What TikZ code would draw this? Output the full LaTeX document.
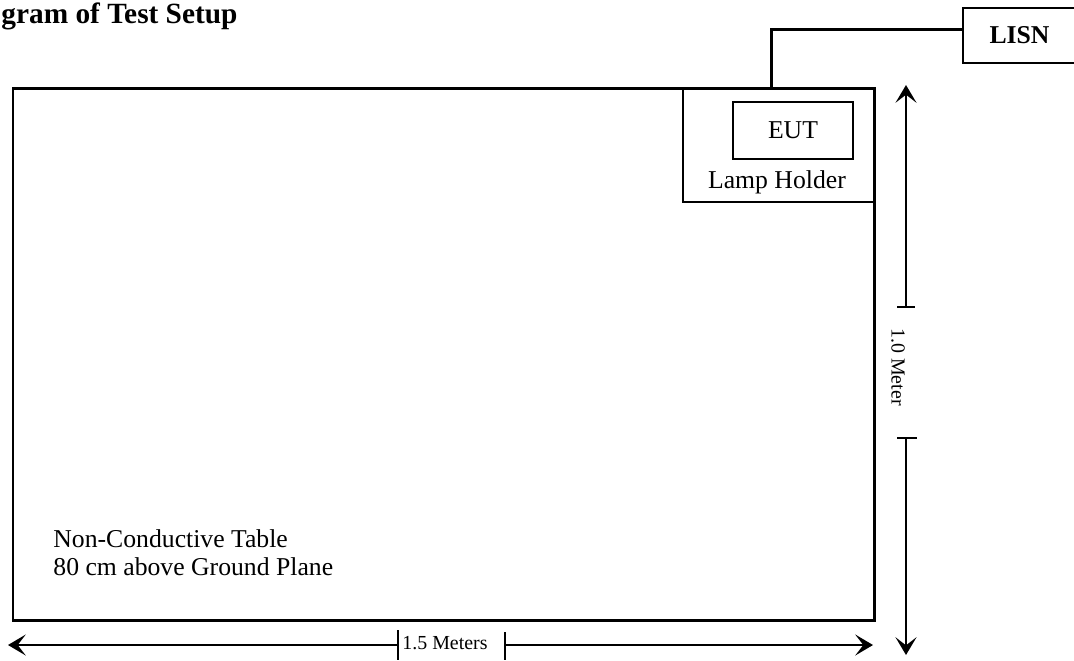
\documentclass[tikz,border=0pt]{standalone}
\usepackage{fontspec}
\setmainfont{Liberation Serif}
\usetikzlibrary{arrows.meta}
\usetikzlibrary{positioning}
\tikzset{
	tablebox/.style={draw, line width=1.4pt},
	holder/.style={draw, line width=0.8pt},
	device/.style={rectangle, draw, line width=0.8pt, inner sep=0pt},
	cable/.style={draw, line width=1.4pt},
	dimarrow/.style={draw, -{Stealth[length=8.3pt, width=9.8pt, inset=3.8pt]}, line width=0.9pt},
	dimtick/.style={draw, line width=0.9pt},
	dimlabel/.style={font=\fontsize{9.3}{11}\selectfont, inner sep=0pt}
}

\begin{document}
\begin{tikzpicture}[x=0.467pt, y=-0.467pt, font=\fontsize{12}{14}\selectfont]
\useasboundingbox (0,0) rectangle (1074,660);

\node[anchor=base west, inner sep=0pt, font=\bfseries\fontsize{13.7}{16}\selectfont] (title) at (1,23) {gram of Test Setup};

\draw[tablebox] (13,88) rectangle (874,620);
\draw[holder] (683,88) rectangle (874,202);

\node[device, minimum width=56pt, minimum height=26.6pt] (eut) at (793,130.5) {EUT};
\node[inner sep=0pt, below=5pt of eut, xshift=-7.5pt] (holderlbl) {Lamp Holder};

\node[device, font=\bfseries\fontsize{12}{14}\selectfont, minimum width=52.8pt, minimum height=25.7pt] (lisn) at (1019.5,35.5) {LISN};

\coordinate (plug) at (771,88);
\draw[cable] (plug) |- ([yshift=2.6pt]lisn.west);

\node[anchor=base west, inner sep=0pt] (tbl1) at (53,547) {Non-Conductive Table};
\node[anchor=base west, inner sep=0pt] (tbl2) at (53,575) {80 cm above Ground Plane};

% 1.5 m along the table
\node[dimlabel] (widthlbl) at (445,643) {1.5 Meters};
\coordinate (wleft) at (8,645);
\coordinate (wright) at (873,645);
\coordinate (wtickl) at (398,645);
\coordinate (wtickr) at (505,645);
\draw[dimarrow] (wtickl) -- (wleft);
\draw[dimarrow] (wtickr) -- (wright);
\draw[dimtick] ([yshift=7pt]wtickl) -- ([yshift=-7pt]wtickl);
\draw[dimtick] ([yshift=6pt]wtickr) -- ([yshift=-7pt]wtickr);

% 1.0 m across the table
\node[dimlabel, rotate=-90] (heightlbl) at (898,367) {1.0 Meter};
\coordinate (htop) at (906,85);
\coordinate (hbottom) at (906,655);
\coordinate (htickt) at (906,307);
\coordinate (htickb) at (906,438);
\draw[dimarrow] (htickt) -- (htop);
\draw[dimarrow] (htickb) -- (hbottom);
\draw[dimtick] ([xshift=-4.2pt]htickt) -- ([xshift=4.2pt]htickt);
\draw[dimtick] ([xshift=-4.2pt]htickb) -- ([xshift=5pt]htickb);

\end{tikzpicture}
\end{document}
